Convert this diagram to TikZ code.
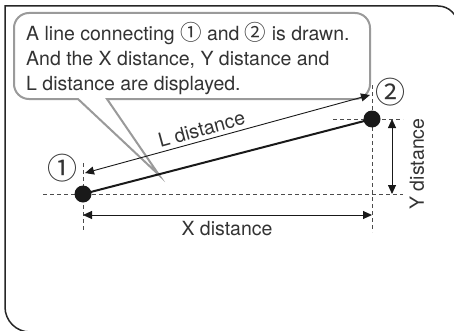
\documentclass[tikz,border=0pt]{standalone}
\usepackage{fontspec}
\setmainfont{TeX Gyre Heros}
\newfontfamily\circfont{Noto Sans CJK JP}
\usetikzlibrary{arrows.meta,positioning}
\definecolor{inkgray}{HTML}{333333}
\definecolor{balloongray}{HTML}{9A9A9A}
\newcommand{\numone}{{\circfont\fontsize{21.5}{25}\selectfont ①}}
\newcommand{\numtwo}{{\circfont\fontsize{21.5}{25}\selectfont ②}}

\begin{document}
\begin{tikzpicture}[x=1pt, y=1pt,
  lbl/.style={font=\fontsize{19.5}{25}\selectfont, text=inkgray, inner sep=0pt},
  digit/.style={font=\circfont\fontsize{30}{30}\selectfont, text=inkgray, inner sep=0pt},
  pt/.style={circle, fill=black!90, minimum size=17pt, inner sep=0pt},
  guide/.style={dash pattern=on 4pt off 3pt, line width=0.9pt, black!70},
  dim/.style={{Triangle[length=9pt,width=8pt]}-{Triangle[length=9pt,width=8pt]}, line width=0.9pt, black!90},
  balloon/.style={draw=balloongray, line width=2pt, fill=white},
]
\useasboundingbox (0,0) rectangle (454,330);

% === Frame ===
\draw[line width=1.5pt, black!85] (458,-10) -- (458,304) arc[start angle=0, end angle=90, radius=20]
  -- (5,324) -- (5,23) arc[start angle=180, end angle=270, radius=25] -- (470,-2);

% === Balloon ===
\draw[balloon] (78,231) -- (159,155) -- (107,231) -- (355,231)
  arc[start angle=270, end angle=360, radius=15] -- (370,302)
  arc[start angle=0, end angle=90, radius=15] -- (29,317)
  arc[start angle=90, end angle=180, radius=15] -- (14,246)
  arc[start angle=180, end angle=270, radius=15] -- cycle;
\node[lbl, align=left, anchor=base west] (msg) at (26,240)
  {A line connecting \numone\ and \numtwo\ is drawn.\\
   And the X distance, Y distance and\\
   L distance are displayed.};

% === Guides ===
\draw[guide] (43,136) -- (403,136);
\draw[guide] (333,211) -- (403,211);
\draw[guide] (83,167) -- (83,98);
\draw[guide] (372,245) -- (372,98);

% === Points ===
\node[pt] (p1) at (83,136) {};
\node[pt] (p2) at (372,211) {};
\draw[line width=2pt, black!90] (p1.center) -- (p2.center);
\node[digit] (n1) at (62,162) {①};
\node[digit] (n2) at (390,238) {②};

% === Distances ===
\coordinate (la) at (85,157);
\coordinate (lb) at (370,235);
\draw[dim] (la) -- (lb) node[lbl, pos=0.42, above=4pt, sloped] (ldist) {L distance};

\coordinate (xa) at (83,115);
\coordinate (xb) at (372,115);
\draw[dim] (xa) -- (xb);
\node[lbl, anchor=base] (xdist) at (227,95) {X distance};

\coordinate (ya) at (392,211);
\coordinate (yb) at (392,136);
\draw[dim] (ya) -- (yb);
\node[lbl, rotate=90] (ydist) at (417,166) {Y distance};

\end{tikzpicture}
\end{document}
